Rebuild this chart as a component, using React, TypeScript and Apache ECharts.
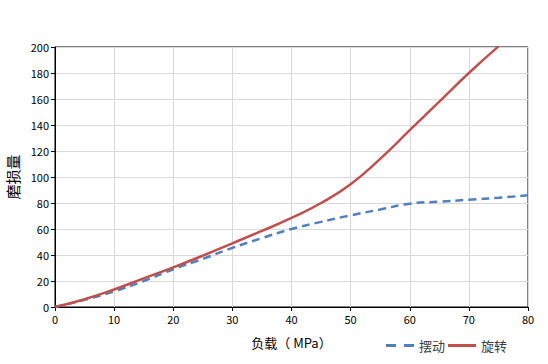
import React, { useEffect, useRef } from "react";
import * as echarts from "echarts";

const loadX = [0, 5, 10, 15, 20, 25, 30, 35, 40, 45, 50, 55, 60, 65, 70, 75, 80];
const swingWear = [0, 5.5, 12, 20, 29, 37, 45.5, 53, 60, 65.5, 70.5, 75, 79.5, 81, 82.5, 84, 86];
const rotateX = [0, 5, 10, 15, 20, 25, 30, 35, 40, 45, 50, 55, 60, 65, 70, 75];
const rotateWear = [0, 6, 13.5, 22, 30.5, 39.5, 49, 58.5, 68.5, 80, 94.5, 114, 136, 158, 180, 200.5];
const seriesNames = ["摆动", "旋转"];

const FONT = "'Noto Sans CJK SC', 'DejaVu Sans', sans-serif";

export default function App() {
  const ref = useRef<HTMLDivElement>(null);
  useEffect(() => {
    if (!ref.current) return;
    const chart = echarts.init(ref.current, null, { renderer: "svg" });
    chart.setOption({
      animation: false,
      backgroundColor: "#fff",
      textStyle: { fontFamily: FONT },
      grid: {
        left: 55,
        right: 20,
        top: 47,
        bottom: 57,
        show: true,
        borderColor: "#000",
        borderWidth: 1,
        containLabel: false,
        outerBoundsMode: "none",
      },
      legend: {
        right: 36,
        top: 334,
        itemWidth: 28,
        itemHeight: 3,
        itemGap: 3,
        textStyle: { fontSize: 13, color: "#404040", fontFamily: FONT },
        data: [
          { name: seriesNames[0], icon: "path://M0,0H10V3H0Z M18,0H28V3H18Z" },
          { name: seriesNames[1], icon: "path://M0,0H28V3H0Z" },
        ],
      },
      xAxis: {
        type: "value",
        min: 0,
        max: 80,
        interval: 10,
        name: "负载（ MPa）",
        nameLocation: "middle",
        nameGap: 29,
        nameTextStyle: { fontSize: 13, color: "#000", fontFamily: FONT },
        axisLine: { show: true, lineStyle: { color: "#000" } },
        axisTick: { show: true, length: 4, lineStyle: { color: "#000" } },
        axisLabel: { fontSize: 11, color: "#000", margin: 6 },
        splitLine: { show: true, lineStyle: { color: "#d9d9d9" } },
      },
      yAxis: {
        type: "value",
        min: 0,
        max: 200,
        interval: 20,
        name: "磨损量",
        nameLocation: "middle",
        nameGap: 32,
        nameRotate: 90,
        nameTextStyle: { fontSize: 15, color: "#000", fontFamily: FONT },
        axisLine: { show: true, lineStyle: { color: "#000" } },
        axisTick: { show: true, length: 4, lineStyle: { color: "#000" } },
        axisLabel: { fontSize: 11, color: "#000", margin: 6 },
        splitLine: { show: true, lineStyle: { color: "#d9d9d9" } },
      },
      series: [
        {
          name: seriesNames[0],
          type: "line",
          smooth: true,
          showSymbol: false,
          symbol: "none",
          data: loadX.map((x, i) => [x, swingWear[i]]),
          itemStyle: { color: "#4F81BD" },
          lineStyle: { color: "#4F81BD", width: 2.5, type: [8, 5] },
        },
        {
          name: seriesNames[1],
          type: "line",
          smooth: true,
          showSymbol: false,
          symbol: "none",
          data: rotateX.map((x, i) => [x, rotateWear[i]]),
          itemStyle: { color: "#C0504D" },
          lineStyle: { color: "#C0504D", width: 2.5 },
        },
      ],
    });
    return () => chart.dispose();
  }, []);
  return (
    <div
      ref={ref}
      style={{ position: "absolute", left: 0, top: 0, width: 548, height: 364 }}
    />
  );
}
